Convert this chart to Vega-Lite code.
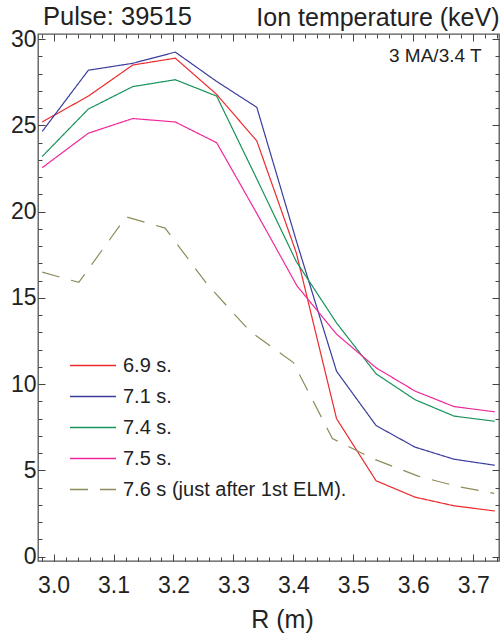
{
  "$schema": "https://vega.github.io/schema/vega-lite/v6.json",
  "width": 461,
  "height": 527,
  "autosize": {"type": "none"},
  "padding": {"left": 38, "top": 34, "right": 2, "bottom": 74},
  "background": "white",
  "title": {"text": "Pulse: 39515", "anchor": "start", "frame": "group", "font": "Liberation Sans", "fontSize": 25.5, "fontWeight": "normal", "color": "#222", "dx": 5, "offset": -25},
  "config": {
    "view": {"stroke": "#555", "strokeWidth": 1.3},
    "axis": {"grid": false, "domain": false, "labelFont": "Liberation Sans", "labelFontSize": 23, "labelColor": "#222", "tickColor": "#444", "tickWidth": 1, "titleFont": "Liberation Sans", "titleFontSize": 25, "titleFontWeight": "normal", "titleColor": "#222"}
  },
  "data": {"values": [
    {"series": "6.9 s.", "R": 2.981, "T": 25.2},
    {"series": "6.9 s.", "R": 3.058, "T": 26.7},
    {"series": "6.9 s.", "R": 3.132, "T": 28.5},
    {"series": "6.9 s.", "R": 3.203, "T": 28.9},
    {"series": "6.9 s.", "R": 3.272, "T": 26.8},
    {"series": "6.9 s.", "R": 3.339, "T": 24.1},
    {"series": "6.9 s.", "R": 3.405, "T": 17.6},
    {"series": "6.9 s.", "R": 3.472, "T": 8.0},
    {"series": "6.9 s.", "R": 3.538, "T": 4.4},
    {"series": "6.9 s.", "R": 3.603, "T": 3.45},
    {"series": "6.9 s.", "R": 3.668, "T": 2.95},
    {"series": "6.9 s.", "R": 3.736, "T": 2.65},
    {"series": "7.1 s.", "R": 2.981, "T": 24.65},
    {"series": "7.1 s.", "R": 3.058, "T": 28.2},
    {"series": "7.1 s.", "R": 3.132, "T": 28.6},
    {"series": "7.1 s.", "R": 3.203, "T": 29.25},
    {"series": "7.1 s.", "R": 3.272, "T": 27.55},
    {"series": "7.1 s.", "R": 3.339, "T": 26.05},
    {"series": "7.1 s.", "R": 3.405, "T": 18.3},
    {"series": "7.1 s.", "R": 3.472, "T": 10.75},
    {"series": "7.1 s.", "R": 3.538, "T": 7.6},
    {"series": "7.1 s.", "R": 3.603, "T": 6.35},
    {"series": "7.1 s.", "R": 3.668, "T": 5.65},
    {"series": "7.1 s.", "R": 3.736, "T": 5.3},
    {"series": "7.4 s.", "R": 2.981, "T": 23.2},
    {"series": "7.4 s.", "R": 3.058, "T": 25.95},
    {"series": "7.4 s.", "R": 3.132, "T": 27.25},
    {"series": "7.4 s.", "R": 3.203, "T": 27.65},
    {"series": "7.4 s.", "R": 3.272, "T": 26.7},
    {"series": "7.4 s.", "R": 3.339, "T": 21.9},
    {"series": "7.4 s.", "R": 3.405, "T": 17.1},
    {"series": "7.4 s.", "R": 3.472, "T": 13.55},
    {"series": "7.4 s.", "R": 3.538, "T": 10.6},
    {"series": "7.4 s.", "R": 3.603, "T": 9.1},
    {"series": "7.4 s.", "R": 3.668, "T": 8.15},
    {"series": "7.4 s.", "R": 3.736, "T": 7.85},
    {"series": "7.5 s.", "R": 2.981, "T": 22.55},
    {"series": "7.5 s.", "R": 3.058, "T": 24.55},
    {"series": "7.5 s.", "R": 3.132, "T": 25.4},
    {"series": "7.5 s.", "R": 3.203, "T": 25.2},
    {"series": "7.5 s.", "R": 3.272, "T": 24.0},
    {"series": "7.5 s.", "R": 3.339, "T": 19.9},
    {"series": "7.5 s.", "R": 3.406, "T": 15.7},
    {"series": "7.5 s.", "R": 3.472, "T": 12.9},
    {"series": "7.5 s.", "R": 3.538, "T": 10.95},
    {"series": "7.5 s.", "R": 3.603, "T": 9.6},
    {"series": "7.5 s.", "R": 3.668, "T": 8.7},
    {"series": "7.5 s.", "R": 3.736, "T": 8.4},
    {"series": "7.6 s (just after 1st ELM).", "R": 2.981, "T": 16.5},
    {"series": "7.6 s (just after 1st ELM).", "R": 3.042, "T": 15.9},
    {"series": "7.6 s (just after 1st ELM).", "R": 3.121, "T": 19.7},
    {"series": "7.6 s (just after 1st ELM).", "R": 3.186, "T": 19.05},
    {"series": "7.6 s (just after 1st ELM).", "R": 3.256, "T": 15.8},
    {"series": "7.6 s (just after 1st ELM).", "R": 3.328, "T": 13.05},
    {"series": "7.6 s (just after 1st ELM).", "R": 3.4, "T": 11.25},
    {"series": "7.6 s (just after 1st ELM).", "R": 3.465, "T": 6.85},
    {"series": "7.6 s (just after 1st ELM).", "R": 3.533, "T": 5.68},
    {"series": "7.6 s (just after 1st ELM).", "R": 3.608, "T": 4.67},
    {"series": "7.6 s (just after 1st ELM).", "R": 3.675, "T": 4.06},
    {"series": "7.6 s (just after 1st ELM).", "R": 3.735, "T": 3.67}
  ]},
  "layer": [
    {
      "mark": {"type": "line", "strokeWidth": 1.2, "clip": true},
      "encoding": {
        "x": {"field": "R", "type": "quantitative", "scale": {"domain": [2.974, 3.743], "nice": false, "zero": false},
              "axis": {"orient": "bottom", "values": [3.0, 3.1, 3.2, 3.3, 3.4, 3.5, 3.6, 3.7], "format": ".1f", "tickSize": -7, "labelPadding": 20, "title": "R (m)", "titleX": 244, "titlePadding": 10}},
        "y": {"field": "T", "type": "quantitative", "scale": {"domain": [-0.25, 30.3], "nice": false, "zero": false},
              "axis": {"orient": "left", "values": [0, 5, 10, 15, 20, 25, 30], "tickSize": -7, "labelPadding": 9, "title": null}},
        "color": {"field": "series", "type": "nominal",
                  "scale": {"domain": ["6.9 s.", "7.1 s.", "7.4 s.", "7.5 s.", "7.6 s (just after 1st ELM)."], "range": ["#ec2a2d", "#3a3d9c", "#17925a", "#f0279a", "#8d8b5c"]},
                  "legend": {"orient": "none", "legendX": 31, "legendY": 316, "title": null, "symbolType": "stroke", "symbolSize": 2116, "symbolStrokeWidth": 1.4, "labelFont": "Liberation Sans", "labelFontSize": 20, "labelColor": "#222", "labelOffset": 6, "rowPadding": 0, "clipHeight": 31, "padding": 0, "labelLimit": 400}},
        "strokeDash": {"field": "series", "type": "nominal",
                  "scale": {"domain": ["6.9 s.", "7.1 s.", "7.4 s.", "7.5 s.", "7.6 s (just after 1st ELM)."], "range": [[1, 0], [1, 0], [1, 0], [1, 0], [18, 12]]},
                  "legend": {"orient": "none", "legendX": 31, "legendY": 316, "title": null, "symbolType": "stroke", "symbolSize": 2116, "symbolStrokeWidth": 1.4, "labelFont": "Liberation Sans", "labelFontSize": 20, "labelColor": "#222", "labelOffset": 6, "rowPadding": 0, "clipHeight": 31, "padding": 0, "labelLimit": 400}}
      }
    },
    {
      "mark": {"type": "point", "opacity": 0},
      "encoding": {
        "x": {"field": "R", "type": "quantitative", "axis": {"orient": "bottom", "values": [2.98, 3.0, 3.02, 3.04, 3.06, 3.08, 3.1, 3.12, 3.14, 3.16, 3.18, 3.2, 3.22, 3.24, 3.26, 3.28, 3.3, 3.32, 3.34, 3.36, 3.38, 3.4, 3.42, 3.44, 3.46, 3.48, 3.5, 3.52, 3.54, 3.56, 3.58, 3.6, 3.62, 3.64, 3.66, 3.68, 3.7, 3.72, 3.74], "tickSize": -4, "labels": false, "title": null}},
        "y": {"field": "T", "type": "quantitative", "axis": {"orient": "left", "values": [0, 1, 2, 3, 4, 5, 6, 7, 8, 9, 10, 11, 12, 13, 14, 15, 16, 17, 18, 19, 20, 21, 22, 23, 24, 25, 26, 27, 28, 29, 30], "tickSize": -4, "labels": false, "title": null}}
      }
    },
    {
      "mark": {"type": "point", "opacity": 0},
      "encoding": {
        "x": {"field": "R", "type": "quantitative", "axis": {"orient": "top", "values": [3.0, 3.1, 3.2, 3.3, 3.4, 3.5, 3.6, 3.7], "tickSize": -7, "labels": false, "title": "Ion temperature (keV)", "titleAnchor": "end", "titlePadding": 3}},
        "y": {"field": "T", "type": "quantitative", "axis": {"orient": "right", "values": [0, 5, 10, 15, 20, 25, 30], "tickSize": -7, "labels": false, "title": null}}
      }
    },
    {
      "mark": {"type": "point", "opacity": 0},
      "encoding": {
        "x": {"field": "R", "type": "quantitative", "axis": {"orient": "top", "values": [2.98, 3.0, 3.02, 3.04, 3.06, 3.08, 3.1, 3.12, 3.14, 3.16, 3.18, 3.2, 3.22, 3.24, 3.26, 3.28, 3.3, 3.32, 3.34, 3.36, 3.38, 3.4, 3.42, 3.44, 3.46, 3.48, 3.5, 3.52, 3.54, 3.56, 3.58, 3.6, 3.62, 3.64, 3.66, 3.68, 3.7, 3.72, 3.74], "tickSize": -4, "labels": false, "title": null}},
        "y": {"field": "T", "type": "quantitative", "axis": {"orient": "right", "values": [0, 1, 2, 3, 4, 5, 6, 7, 8, 9, 10, 11, 12, 13, 14, 15, 16, 17, 18, 19, 20, 21, 22, 23, 24, 25, 26, 27, 28, 29, 30], "tickSize": -4, "labels": false, "title": null}}
      }
    },
    {
      "data": {"values": [{"note": "3 MA/3.4 T", "R": 3.714, "T": 29.0}]},
      "mark": {"type": "text", "align": "right", "baseline": "middle", "font": "Liberation Sans", "fontSize": 19, "color": "#222"},
      "encoding": {
        "x": {"field": "R", "type": "quantitative", "axis": null},
        "y": {"field": "T", "type": "quantitative", "axis": null},
        "text": {"field": "note"}
      }
    }
  ],
  "resolve": {"axis": {"x": "independent", "y": "independent"}}
}
